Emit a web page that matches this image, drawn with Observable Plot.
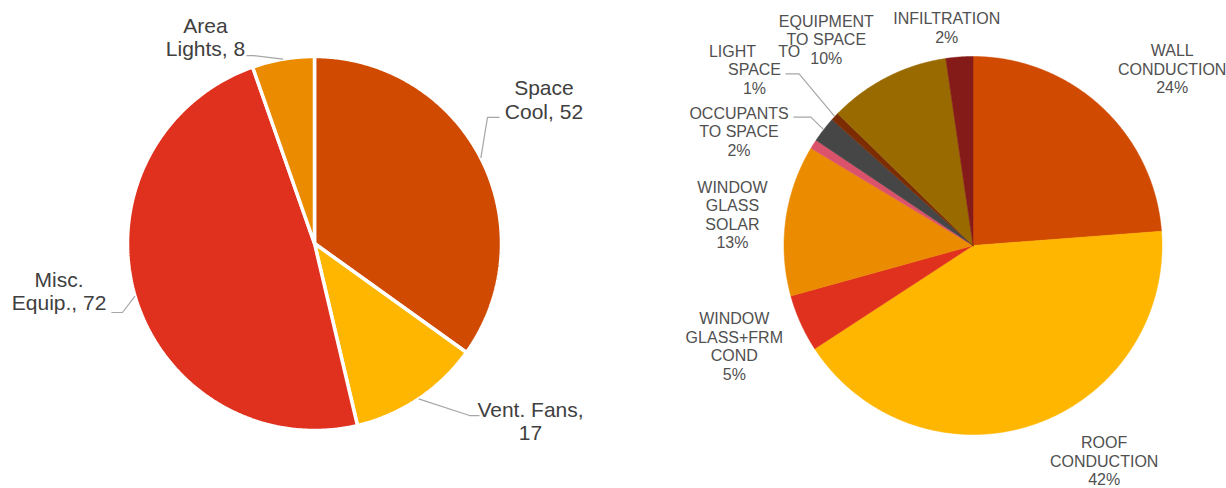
<!DOCTYPE html>
<html>
<head>
<meta charset="utf-8">
<script src="https://cdn.jsdelivr.net/npm/d3@7"></script>
<script src="https://cdn.jsdelivr.net/npm/@observablehq/plot@0.6"></script>
<style>
  html, body { margin: 0; padding: 0; background: #fff; }
  #wrap { display: flex; width: 1226px; height: 488px; overflow: hidden; }
  #wrap svg { display: block; }
</style>
</head>
<body>
<div id="wrap"></div>
<script>
// ---------- Left pie data ----------
const leftNames   = ["Space Cool", "Vent. Fans", "Misc. Equip.", "Area Lights"];
const leftValues  = [52, 17, 72, 8];
const leftColors  = ["#D04A02", "#FFB600", "#E0301E", "#EB8C00"];
const leftWrapped = ["Space\nCool", "Vent. Fans", "Misc.\nEquip.", "Area\nLights"];
const leftSep     = [", ", ",\n", ", ", ", "];
// label centre (in pie-radius units) and leader start / elbow
const leftLabelX  = [1.227, 1.155, -1.366, -0.583];
const leftLabelY  = [0.770, -0.950, -0.255, 1.105];
const leftLeadX   = [0.989, 0.882, -1.086, -0.364];
const leftLeadY   = [0.674, -0.920, -0.369, 1.005];
const leftElbowX  = [0.925, 0.829, -1.027, -0.330];

// ---------- Right pie data (percent of total) ----------
const rightNames   = ["WALL CONDUCTION", "ROOF CONDUCTION", "WINDOW GLASS+FRM COND", "WINDOW GLASS SOLAR",
                      "", "OCCUPANTS TO SPACE", "LIGHT TO SPACE", "EQUIPMENT TO SPACE", "INFILTRATION"];
const rightValues  = [23.8, 42.0, 4.9, 12.9, 0.8, 2.2, 0.7, 10.4, 2.3];
const rightColors  = ["#D04A02", "#FFB600", "#E0301E", "#EB8C00", "#DB536A", "#464646", "#7B2C02", "#996A00", "#841B18"];
const rightWrapped = ["WALL\nCONDUCTION", "ROOF\nCONDUCTION", "WINDOW\nGLASS+FRM\nCOND", "WINDOW\nGLASS\nSOLAR",
                      null, "OCCUPANTS\nTO SPACE", "LIGHT\u00a0\u00a0\u00a0\u00a0\u00a0TO\nSPACE", "EQUIPMENT\nTO SPACE", "INFILTRATION"];
const rightLabelX  = [1.054, 0.694, -1.263, -1.273, null, -1.238, -1.156, -0.776, -0.139];
const rightLabelY  = [0.934, -1.140, -0.532, 0.164, null, 0.603, 0.931, 1.090, 1.153];
const rightLeadX   = [null, null, null, null, null, -0.950, -0.992, null, null];
const rightLeadY   = [null, null, null, null, null, 0.679, 0.908, null, null];
const rightElbowX  = [null, null, null, null, null, -0.858, -0.920, null, null];

// ---------- layout ----------
const W = 613, H = 488;
const FONT = "'Liberation Sans', Arial, Helvetica, sans-serif";

function slicesOf(names, values) {
  const total = d3.sum(values);
  let acc = 0;
  return values.map((v, i) => {
    const a0 = acc / total * 2 * Math.PI;
    acc += v;
    const a1 = acc / total * 2 * Math.PI;
    return {i, name: names[i], value: v, a0, a1, mid: (a0 + a1) / 2};
  });
}

function polygons(slices, colors) {
  const pts = [];
  for (const s of slices) {
    const n = Math.max(2, Math.ceil((s.a1 - s.a0) / (Math.PI / 360)));
    pts.push({k: s.i, x: 0, y: 0, color: colors[s.i]});
    for (let j = 0; j <= n; j++) {
      const a = s.a0 + (s.a1 - s.a0) * j / n;
      pts.push({k: s.i, x: Math.sin(a), y: Math.cos(a), color: colors[s.i]});
    }
    pts.push({k: s.i, x: 0, y: 0, color: colors[s.i]});
  }
  return pts;
}

function leaders(slices, lx, ly, ex) {
  const pts = [];
  for (const s of slices) {
    if (lx[s.i] == null) continue;
    pts.push({k: s.i, x: lx[s.i], y: ly[s.i]});
    pts.push({k: s.i, x: ex[s.i], y: ly[s.i]});
    pts.push({k: s.i, x: Math.sin(s.mid), y: Math.cos(s.mid)});
  }
  return pts;
}

function pie({cx, cy, r, names, values, colors, labels, lx, ly, leadX, leadY, elbowX, sepStroke, sepWidth, fontSize, lineHeight, textColor}) {
  const slices = slicesOf(names, values);
  const labelData = slices
    .filter(s => labels[s.i] != null && lx[s.i] != null)
    .map(s => ({x: lx[s.i], y: ly[s.i], text: labels[s.i]}));
  return Plot.plot({
    width: W, height: H,
    margin: 0,
    style: {background: "#fff", fontFamily: FONT, overflow: "visible"},
    x: {domain: [(0 - cx) / r, (W - cx) / r], axis: null},
    y: {domain: [-(H - cy) / r, cy / r], axis: null},
    color: {type: "identity"},
    marks: [
      Plot.line(polygons(slices, colors), {
        x: "x", y: "y", z: "k", fill: "color",
        stroke: sepStroke ?? "color", strokeWidth: sepWidth,
        strokeLinejoin: "miter", curve: "linear-closed"
      }),
      Plot.line(leaders(slices, leadX, leadY, elbowX), {
        x: "x", y: "y", z: "k", stroke: "#A6A6A6", strokeWidth: 1.2,
        strokeLinejoin: "miter", strokeLinecap: "butt"
      }),
      Plot.text(labelData, {
        x: "x", y: "y", text: "text",
        fontSize, lineHeight, fill: textColor,
        textAnchor: "middle", lineAnchor: "middle", fontFamily: FONT
      })
    ]
  });
}

const leftLabels = leftNames.map((_, i) => leftWrapped[i] + leftSep[i] + leftValues[i]);
const rightLabels = rightNames.map((_, i) =>
  rightWrapped[i] == null ? null : rightWrapped[i] + "\n" + Math.round(rightValues[i]) + "%");

const wrap = document.getElementById("wrap");
wrap.append(pie({
  cx: 314, cy: 243, r: 187,
  names: leftNames, values: leftValues, colors: leftColors, labels: leftLabels,
  lx: leftLabelX, ly: leftLabelY, leadX: leftLeadX, leadY: leftLeadY, elbowX: leftElbowX,
  sepStroke: "#ffffff", sepWidth: 3.5, fontSize: 21, lineHeight: 1.11, textColor: "#404040"
}));
wrap.append(pie({
  cx: 972.5 - W, cy: 245, r: 189,
  names: rightNames, values: rightValues, colors: rightColors, labels: rightLabels,
  lx: rightLabelX, ly: rightLabelY, leadX: rightLeadX, leadY: rightLeadY, elbowX: rightElbowX,
  sepStroke: null, sepWidth: 0.5, fontSize: 16, lineHeight: 1.15, textColor: "#505050"
}));
</script>
</body>
</html>
